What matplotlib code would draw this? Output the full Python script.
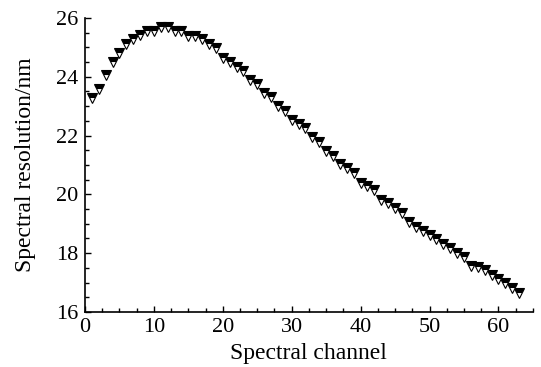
import numpy as np
import matplotlib.pyplot as plt
from matplotlib.ticker import MultipleLocator

# Spectral channel index and resolution (nm)
channel = list(range(1, 64))
resolution = [
    23.29, 23.59, 24.06, 24.51, 24.82, 25.11, 25.29, 25.42, 25.56, 25.56,
    25.70, 25.70, 25.56, 25.56, 25.40, 25.40, 25.29, 25.11, 24.97, 24.65,
    24.49, 24.34, 24.21, 23.89, 23.76, 23.44, 23.30, 23.01, 22.85, 22.53,
    22.39, 22.25, 21.94, 21.79, 21.49, 21.31, 21.03, 20.89, 20.72, 20.40,
    20.29, 20.15, 19.81, 19.70, 19.53, 19.38, 19.07, 18.90, 18.77, 18.62,
    18.47, 18.31, 18.17, 18.00, 17.86, 17.56, 17.54, 17.43, 17.26, 17.11,
    16.98, 16.81, 16.64,
]

x_ticks = [0, 10, 20, 30, 40, 50, 60]
y_ticks = [16, 18, 20, 22, 24, 26]

plt.rcParams['font.family'] = ['Liberation Serif', 'DejaVu Serif']

fig = plt.figure(figsize=(5.41, 3.67), dpi=100)
ax = fig.add_axes([0.157, 0.150, 0.828, 0.801])

# open triangle with a heavy (filled) top part, like the original marker
ax.plot(channel, resolution, linestyle='none', marker='v', markersize=7,
        fillstyle='top', markerfacecolor='black', markerfacecoloralt='white',
        markeredgecolor='black', markeredgewidth=0.8)

ax.set_xlim(0, 65)
ax.set_ylim(16, 26)
ax.set_xticks(x_ticks)
ax.set_yticks(y_ticks)
ax.xaxis.set_minor_locator(MultipleLocator(2.5))
ax.yaxis.set_minor_locator(MultipleLocator(0.5))

for side in ['top', 'right']:
    ax.spines[side].set_visible(False)
for side in ['left', 'bottom']:
    ax.spines[side].set_linewidth(1.2)

ax.tick_params(which='both', direction='in', labelsize=16, width=1.0)
ax.tick_params(axis='x', which='both', pad=4)
ax.tick_params(axis='y', which='both', pad=5)
ax.tick_params(which='major', length=4)
ax.tick_params(which='minor', length=3)

ax.set_xlabel('Spectral channel', fontsize=17, labelpad=5)
ax.set_ylabel('Spectral resolution/nm', fontsize=17, labelpad=14)

fig.savefig('out.png', dpi=100)
